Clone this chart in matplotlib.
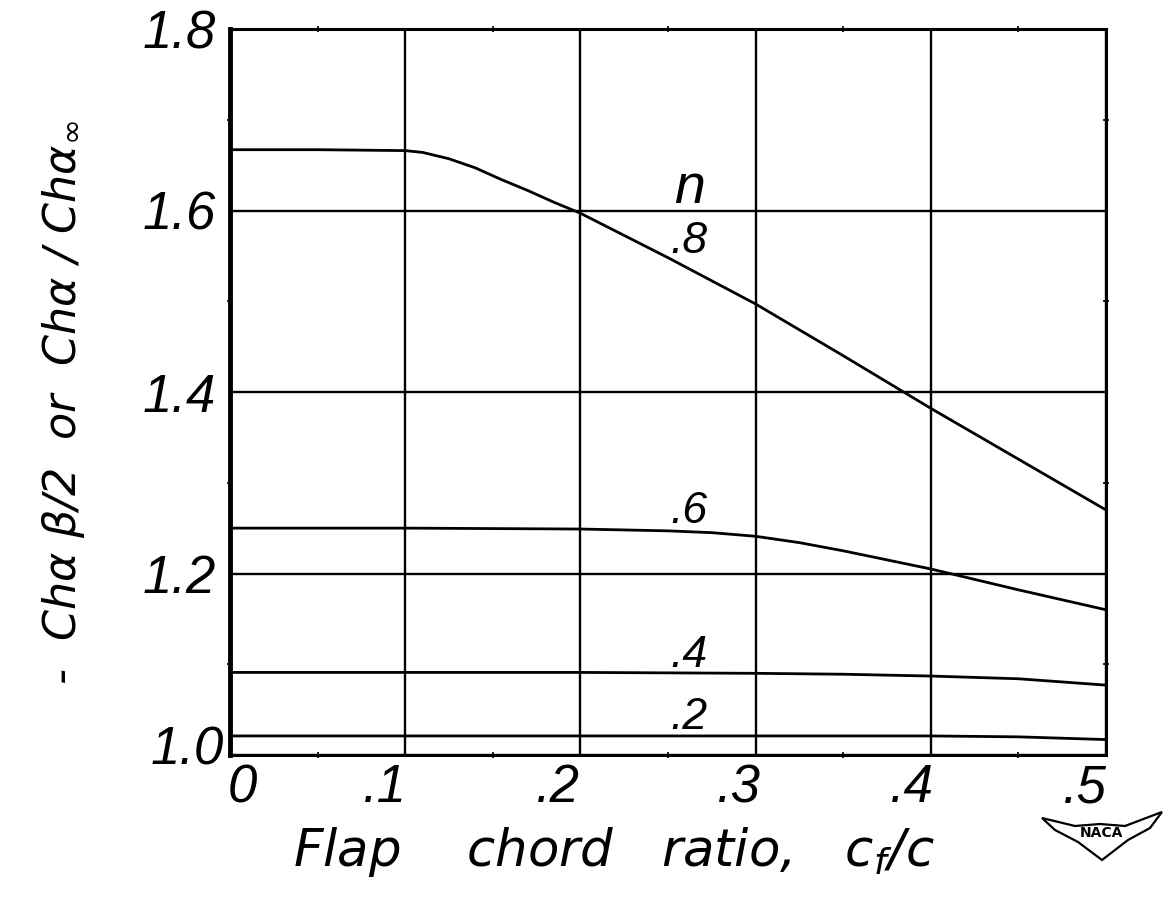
import matplotlib
matplotlib.use("Agg")
import matplotlib.pyplot as plt
import matplotlib.transforms as mtransforms
from matplotlib.patches import Polygon
from matplotlib.ticker import MultipleLocator

# ---- data ----
x_n08 = [0.0, 0.05, 0.10, 0.11, 0.125, 0.14, 0.155, 0.17, 0.185, 0.20, 0.25, 0.30, 0.35, 0.40, 0.45, 0.50]
y_n08 = [1.667, 1.667, 1.666, 1.664, 1.657, 1.647, 1.634, 1.622, 1.609, 1.597, 1.548, 1.497, 1.440, 1.382, 1.326, 1.270]

x_n06 = [0.0, 0.10, 0.20, 0.25, 0.275, 0.30, 0.325, 0.35, 0.40, 0.45, 0.50]
y_n06 = [1.250, 1.250, 1.249, 1.247, 1.245, 1.241, 1.234, 1.225, 1.205, 1.182, 1.160]

x_n04 = [0.0, 0.10, 0.20, 0.30, 0.35, 0.40, 0.45, 0.50]
y_n04 = [1.091, 1.091, 1.091, 1.090, 1.089, 1.087, 1.084, 1.077]

x_n02 = [0.0, 0.10, 0.20, 0.30, 0.40, 0.45, 0.50]
y_n02 = [1.021, 1.021, 1.021, 1.021, 1.021, 1.020, 1.017]

curve_labels = [".8", ".6", ".4", ".2"]
curve_label_x = [0.262, 0.262, 0.262, 0.262]
curve_label_y = [1.566, 1.268, 1.110, 1.041]

x_ticks = [0.0, 0.1, 0.2, 0.3, 0.4, 0.5]
x_ticklabels = ["0", ".1", ".2", ".3", ".4", ".5"]
y_ticks = [1.0, 1.2, 1.4, 1.6, 1.8]
y_ticklabels = ["1.0", "1.2", "1.4", "1.6", "1.8"]

FONT = ["Liberation Sans Narrow", "Liberation Sans", "DejaVu Sans"]
FONT2 = ["DejaVu Sans"]

fig = plt.figure(figsize=(11.64, 9.11), dpi=100)
ax = fig.add_axes([230 / 1164, 1 - 755 / 911, (1106 - 230) / 1164, (755 - 29) / 911])

for xs, ys in [(x_n08, y_n08), (x_n06, y_n06), (x_n04, y_n04), (x_n02, y_n02)]:
    ax.plot(xs, ys, color="black", lw=2.0, solid_capstyle="butt",
            solid_joinstyle="round", zorder=3)

ax.set_xlim(0, 0.5)
ax.set_ylim(1.0, 1.8)
ax.set_xticks(x_ticks)
ax.set_yticks(y_ticks)
ax.xaxis.set_minor_locator(MultipleLocator(0.05))
ax.yaxis.set_minor_locator(MultipleLocator(0.1))
ax.grid(True, which="major", color="black", lw=1.7)
ax.tick_params(which="major", length=0)
ax.tick_params(which="minor", length=4, width=1.2, direction="inout",
               top=True, right=True, color="black")
for side, sp in ax.spines.items():
    sp.set_linewidth(2.2)
    sp.set_color("black")
ax.spines["left"].set_linewidth(3.5)

ax.set_xticklabels(x_ticklabels, fontsize=38, fontstyle="italic", family=FONT)
ax.set_yticklabels(y_ticklabels, fontsize=38, fontstyle="italic", family=FONT)
ax.tick_params(axis="x", which="major", pad=6)
ax.tick_params(axis="y", which="major", pad=10)

x_offsets = [12, -20, -22, -17, -19, -21]
for lab, dx in zip(ax.get_xticklabels(), x_offsets):
    lab.set_transform(lab.get_transform() +
                      mtransforms.ScaledTranslation(dx / 100, 0, fig.dpi_scale_trans))
for lab, tv in zip(ax.get_yticklabels(), y_ticks):
    dy = 10 if tv == 1.0 else 0
    dx = 8 if tv == 1.0 else 0
    lab.set_transform(lab.get_transform() +
                      mtransforms.ScaledTranslation(dx / 100, dy / 100, fig.dpi_scale_trans))

# curve labels
ax.text(0.262, 1.624, "n", fontsize=40, fontstyle="italic", family=FONT,
        ha="center", va="center")
for t, xv, yv in zip(curve_labels, curve_label_x, curve_label_y):
    ax.text(xv, yv, t, fontsize=32, fontstyle="italic", family=FONT,
            ha="center", va="center")

# axis labels
fig.text(614 / 1164, 1 - 852 / 911, "Flap    chord   ratio,   c$_f$/c",
         fontsize=37, fontstyle="italic", family=FONT2, ha="center", va="center")
fig.text(64 / 1164, 1 - 402 / 911,
         "-  Ch\u03b1 \u03b2/2  or  Ch\u03b1 / Ch\u03b1$_\\infty$",
         fontsize=32, fontstyle="italic", family=FONT2, rotation=90,
         ha="center", va="center")

# NACA emblem
wing_px = [(1042, 818), (1075, 826), (1100, 824), (1125, 826), (1162, 812),
           (1150, 828), (1128, 840), (1102, 860), (1078, 842), (1055, 830)]
wing = [(px / 1164, 1 - py / 911) for px, py in wing_px]
fig.patches.append(Polygon(wing, closed=True, fill=False, edgecolor="black",
                           lw=1.6, transform=fig.transFigure, figure=fig))
fig.text(1101 / 1164, 1 - 833 / 911, "NACA", fontsize=10, fontweight="bold",
         family=["Liberation Sans Narrow", "DejaVu Sans"], ha="center", va="center")

fig.savefig("out.png", dpi=100)
